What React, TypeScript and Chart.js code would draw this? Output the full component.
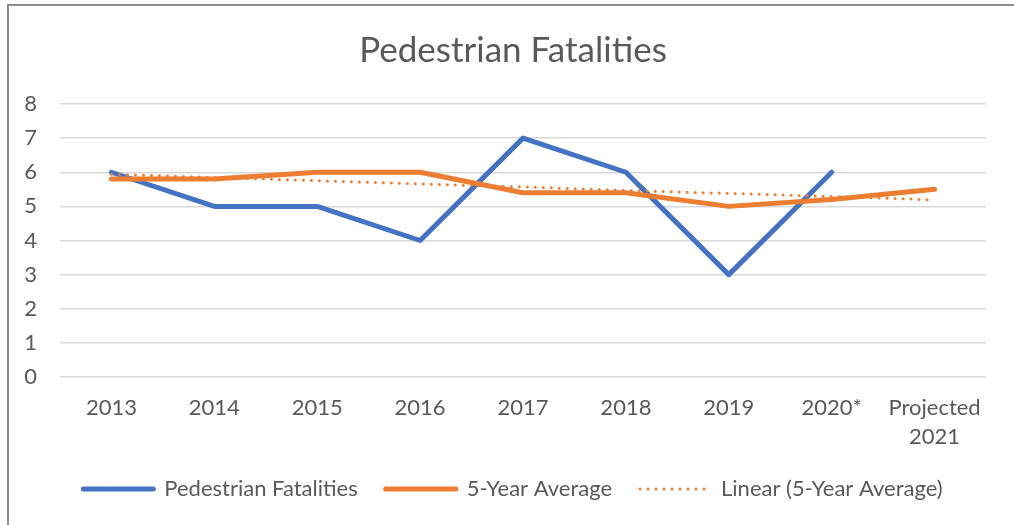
import React, { useEffect, useRef } from "react";
import { Chart, registerables } from "chart.js";

Chart.register(...registerables);

const categories: (string | string[])[] = ["2013", "2014", "2015", "2016", "2017", "2018", "2019", "2020*", ["Projected", "2021"]];
const pedestrianFatalities: (number | null)[] = [6, 5, 5, 4, 7, 6, 3, 6, null];
const fiveYearAverage: number[] = [5.8, 5.8, 6, 6, 5.4, 5.4, 5.0, 5.2, 5.5];
const linearTrend: number[] = [5.94, 5.85, 5.75, 5.66, 5.57, 5.47, 5.38, 5.29, 5.19];
const yTicks: number[] = [0, 1, 2, 3, 4, 5, 6, 7, 8];

const FONT = "Lato, 'Open Sans', sans-serif";
const TEXT = "#595959";

const borderPlugin = {
  id: "frame",
  beforeDraw(chart: any) {
    const ctx = chart.ctx;
    ctx.save();
    ctx.fillStyle = "#ffffff";
    ctx.fillRect(0, 0, chart.width, chart.height);
    ctx.fillStyle = "#8c8c8c";
    ctx.fillRect(7, 4, 2, chart.height - 4);
    ctx.fillRect(7, 4, chart.width - 7, 2);
    ctx.restore();
  },
};

export default function App() {
  const ref = useRef<HTMLCanvasElement | null>(null);
  useEffect(() => {
    if (!ref.current) return;
    const chart = new Chart(ref.current, {
      type: "line",
      data: {
        labels: categories as any,
        datasets: [
          {
            label: "Pedestrian Fatalities",
            data: pedestrianFatalities,
            borderColor: "#4472C4",
            backgroundColor: "#4472C4",
            borderWidth: 5,
            borderCapStyle: "round",
            borderJoinStyle: "round",
            pointRadius: 0,
            tension: 0,
            order: 3,
            spanGaps: false,
          },
          {
            label: "5-Year Average",
            data: fiveYearAverage,
            borderColor: "#ED7D31",
            backgroundColor: "#ED7D31",
            borderWidth: 5,
            borderCapStyle: "round",
            borderJoinStyle: "round",
            pointRadius: 0,
            tension: 0,
            order: 2,
          },
          {
            label: "Linear (5-Year Average)",
            data: linearTrend,
            borderColor: "#ED7D31",
            backgroundColor: "#ED7D31",
            borderWidth: 3,
            borderDash: [0, 8],
            borderCapStyle: "round",
            pointRadius: 0,
            tension: 0,
            order: 1,
          },
        ],
      },
      options: {
        responsive: false,
        animation: false,
        layout: { padding: { left: 12, right: 0, top: 0, bottom: 15 } },
        plugins: {
          title: {
            display: true,
            text: "Pedestrian Fatalities",
            color: TEXT,
            font: { family: FONT, size: 35, weight: "normal" },
            padding: { top: 30, bottom: 32 },
          },
          legend: {
            position: "bottom",
            labels: {
              usePointStyle: true,
              pointStyle: "line",
              pointStyleWidth: 70,
              color: TEXT,
              font: { family: FONT, size: 22 },
              padding: 28,
              generateLabels: (c: any) =>
                c.data.datasets.map((ds: any, i: number) => ({
                  text: ds.label,
                  datasetIndex: i,
                  fillStyle: ds.borderColor,
                  strokeStyle: ds.borderColor,
                  fontColor: TEXT,
                  lineWidth: ds.borderWidth,
                  lineDash: ds.borderDash || [],
                  lineCap: "round",
                  pointStyle: "line",
                  hidden: false,
                })),
            },
          },
          tooltip: { enabled: false },
        },
        scales: {
          x: {
            offset: true,
            afterFit: (scale: any) => {
              scale.height = 73;
            },
            grid: { display: false, drawTicks: false },
            border: { display: false },
            ticks: {
              color: TEXT,
              font: { family: FONT, size: 22, lineHeight: 1.3 },
              padding: 17,
              maxRotation: 0,
              autoSkip: false,
            },
          },
          y: {
            min: 0,
            max: 8,
            afterFit: (scale: any) => {
              scale.width = 48;
            },
            afterBuildTicks: (scale: any) => {
              scale.ticks = yTicks.map((v) => ({ value: v }));
            },
            grid: { color: "#d9d9d9", lineWidth: 1.5, drawTicks: false },
            border: { display: false },
            ticks: {
              color: TEXT,
              font: { family: FONT, size: 22 },
              padding: 23,
              stepSize: 1,
            },
          },
          yRight: {
            position: "right",
            display: true,
            min: 0,
            max: 8,
            afterFit: (scale: any) => {
              scale.width = 28;
            },
            grid: { display: false, drawTicks: false },
            border: { display: false },
            ticks: { display: false },
          },
        },
      },
      plugins: [borderPlugin],
    });
    return () => chart.destroy();
  }, []);
  return (
    <div style={{ position: "absolute", left: 0, top: 0, width: 1014, height: 525 }}>
      <canvas ref={ref} width={1014} height={525} style={{ display: "block" }} />
    </div>
  );
}
